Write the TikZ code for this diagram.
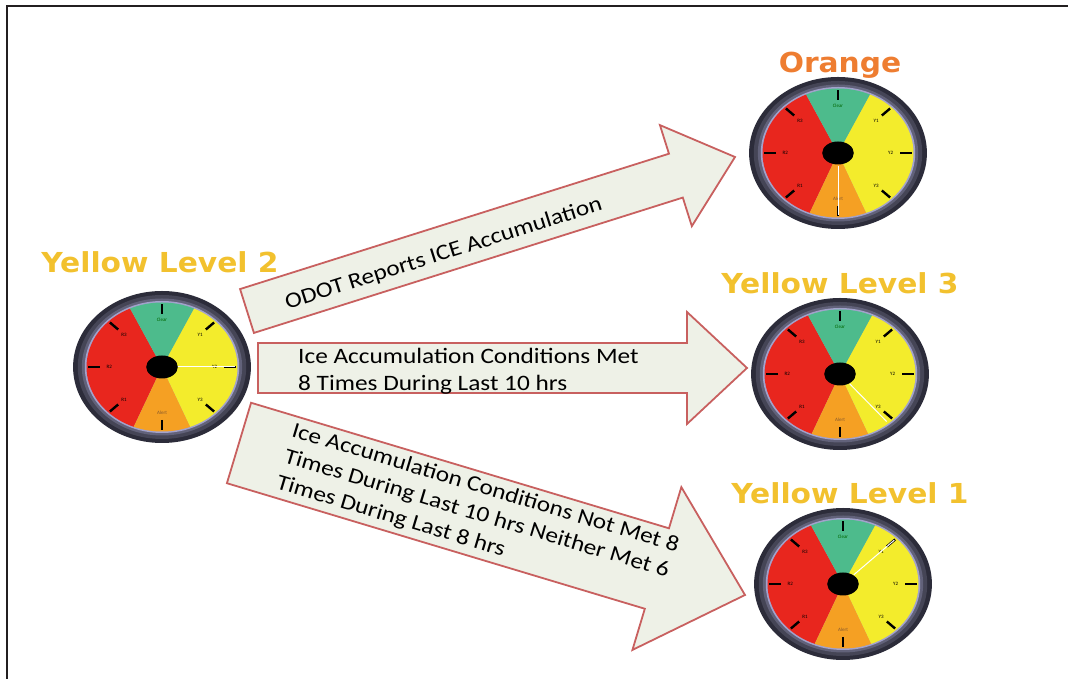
\documentclass[tikz,border=0pt]{standalone}
\usepackage{fontspec}
\setmainfont{Carlito}
\newfontfamily\flowfont[FakeStretch=1.15]{Carlito}
\newfontfamily\levelfont[FakeStretch=1.08]{DejaVu Sans}
\usetikzlibrary{calc}

\definecolor{framegray}{HTML}{231F20}
\definecolor{levelyellow}{HTML}{F2C12E}
\definecolor{levelorange}{HTML}{EE7D31}
\definecolor{flowfill}{HTML}{EEF1E7}
\definecolor{flowline}{HTML}{C8605F}
\definecolor{dialred}{HTML}{E8261E}
\definecolor{dialgreen}{HTML}{4DBB8C}
\definecolor{dialyellow}{HTML}{F3EC2C}
\definecolor{dialorange}{HTML}{F5A023}
\definecolor{bezelA}{HTML}{2C2C3A}
\definecolor{bezelB}{HTML}{454556}
\definecolor{bezelC}{HTML}{62627A}
\definecolor{bezelD}{HTML}{A2A2CC}

\tikzset{
  levelname/.style={font=\levelfont\bfseries\fontsize{27.5}{30}\selectfont,
                    text=levelyellow, inner sep=0pt},
  flow/.style={fill=flowfill, draw=flowline, line width=1.8pt},
  flowtext/.style={font=\flowfont\fontsize{22}{27}\selectfont, text=black,
                   align=left, inner sep=0pt},
  tickmark/.style={line width=2.4pt, black},
  dial/.style={font=\fontsize{5}{6}\selectfont, inner sep=0pt},
  needle/.style={white, line width=1pt},
  frame/.style={line width=2.5pt, draw=framegray}
}

% #1 name, #2 x, #3 y, #4 needle angle
\newcommand{\drawgauge}[4]{%
  \coordinate (#1) at (#2,#3);
  \begin{scope}[shift={(#1)}, xscale=1.17]
    % bezel
    \fill[bezelA] (0,0) circle[radius=76];
    \fill[bezelB] (0,0) circle[radius=72];
    \fill[bezelC] (0,0) circle[radius=68.5];
    \fill[bezelD] (0,0) circle[radius=66];
    % dial face
    \fill[dialred] (0,0) -- (115:64.5) arc[start angle=115, end angle=248, radius=64.5] -- cycle;
    \fill[dialorange] (0,0) -- (248:64.5) arc[start angle=248, end angle=292, radius=64.5] -- cycle;
    \fill[dialyellow] (0,0) -- (-68:64.5) arc[start angle=-68, end angle=65, radius=64.5] -- cycle;
    \fill[dialgreen] (0,0) -- (65:64.5) arc[start angle=65, end angle=115, radius=64.5] -- cycle;
    \foreach \a in {90,45,0,-45,-90,135,180,225}
      \draw[tickmark] (\a:53) -- (\a:63);
    \node[dial, text=green!40!black] at (90:47) {Clear};
    \node[dial, text=brown!70!black] at (270:46) {Alert};
    \node[dial] at (45:46) {Y1};
    \node[dial] at (0:45) {Y2};
    \node[dial] at (-45:46) {Y3};
    \node[dial] at (225:46) {R1};
    \node[dial] at (180:45) {R2};
    \node[dial] at (135:46) {R3};
    \draw[needle] (#4:13) -- (#4:62);
    \fill[black] (0,0) circle[x radius=13.5, y radius=11.5];
  \end{scope}}

% #1 tail, #2 tip, #3 shaft half width, #4 head half width, #5 head length
\newcommand{\blockarrow}[5]{%
  \coordinate (hb) at ($(#2)!#5!(#1)$);
  \filldraw[flow] ($(#1)!#3!90:(#2)$) -- ($(hb)!#3!90:(#2)$)
    -- ($(hb)!#4!90:(#2)$) -- (#2) -- ($(hb)!#4!-90:(#2)$)
    -- ($(hb)!#3!-90:(#2)$) -- ($(#1)!#3!-90:(#2)$) -- cycle;}

\begin{document}
\begin{tikzpicture}[x=1pt, y=1pt]
\useasboundingbox (0,0) rectangle (1068,679);
\draw[frame] (7,-2) -- (7,673) -- (1070,673);

% gauges
\drawgauge{lvl2}{162}{312}{0}
\drawgauge{orange}{838}{526}{270}
\drawgauge{lvl3}{840}{305}{-50}
\drawgauge{lvl1}{843}{95}{45}

\node[levelname] (lvl2name) at (160,417) {Yellow Level 2};
\node[levelname, text=levelorange] (orangename) at (840,614) {Orange};
\node[levelname] (lvl3name) at (840,396) {Yellow Level 3};
\node[levelname] (lvl1name) at (850,186) {Yellow Level 1};

% transitions
\coordinate (odotTail) at ($(lvl2)+(85,56)$);
\coordinate (odotTip) at ($(orange)+(-103,-4)$);
\coordinate (metTail) at ($(lvl2)+(96,-1)$);
\coordinate (metTip) at ($(lvl3)+(-93,6)$);
\coordinate (notTail) at ($(lvl2)+(77,-76)$);
\coordinate (notTip) at ($(lvl1)+(-98,-11)$);

\blockarrow{odotTail}{odotTip}{23pt}{53pt}{62pt}
\blockarrow{metTail}{metTip}{25pt}{56pt}{60pt}
\blockarrow{notTail}{notTip}{42pt}{85pt}{92pt}

\path (odotTail) -- (odotTip)
  node[flowtext, sloped, pos=0.4, yshift=-5pt] (odotText) {ODOT Reports ICE Accumulation};
\node[flowtext, anchor=west] (metText) at (298,308)
  {Ice Accumulation Conditions Met\\8 Times During Last 10 hrs};
\path (notTail) -- (notTip)
  node[flowtext, sloped, pos=0.09, anchor=west] (notText)
  {Ice Accumulation Conditions Not Met 8\\Times During Last 10 hrs Neither Met 6\\Times During Last 8 hrs};
\end{tikzpicture}
\end{document}
